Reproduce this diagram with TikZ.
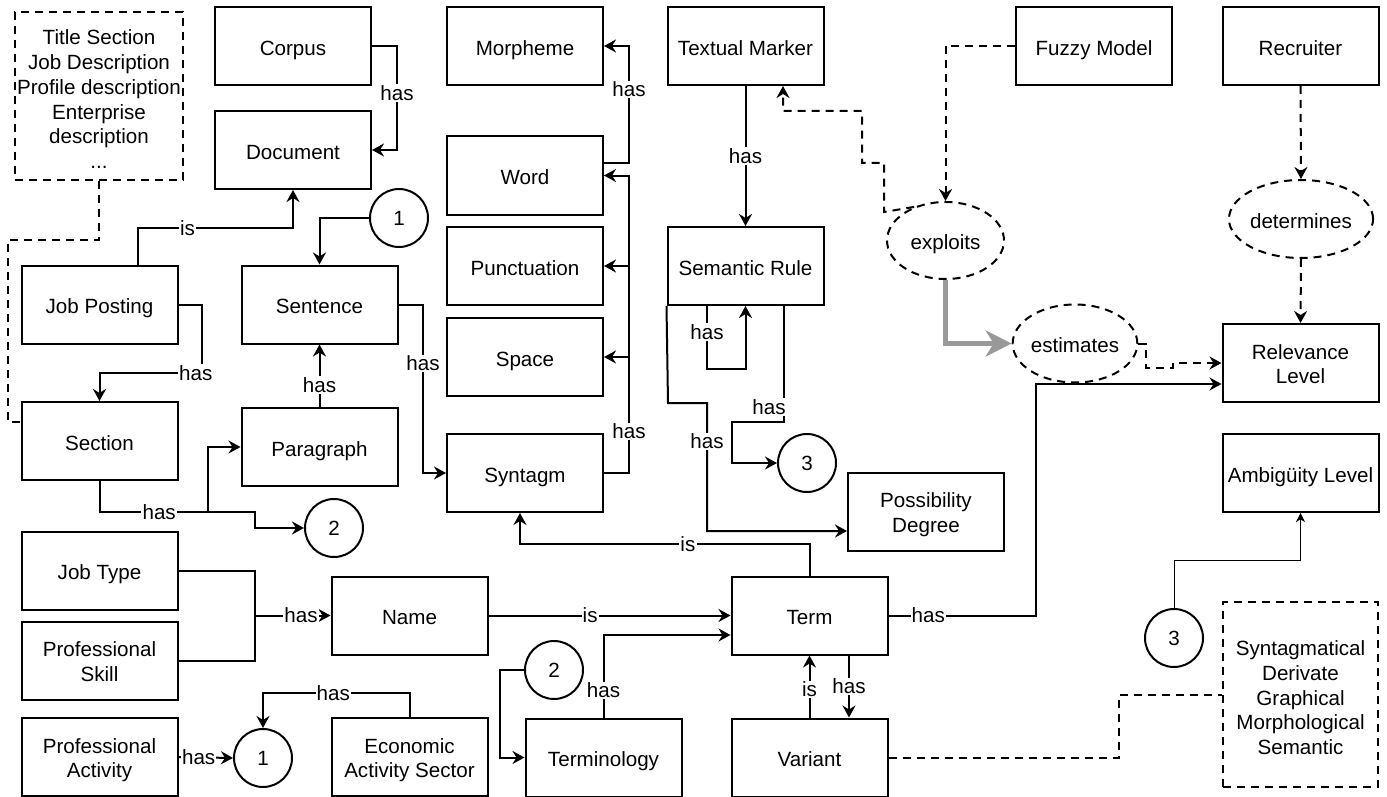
\documentclass[tikz,border=0pt]{standalone}
\usepackage{fontspec}
\setmainfont{Liberation Sans}
\usetikzlibrary{arrows.meta,shapes.geometric,calc}
\newcommand{\vstrut}{\rule[-0.21em]{0pt}{1.32em}}
\newcommand{\mstrut}{\rule{0pt}{1.03em}}
\tikzset{
  txt/.style={font=\fontsize{10.3pt}{12.4pt}\selectfont},
  box/.style={draw,line width=1pt,minimum width=78pt,minimum height=39pt,inner sep=0pt,align=center,txt,execute at begin node=\vstrut,execute at end node=\vstrut},
  dbox/.style={draw,line width=1pt,dash pattern=on 4pt off 3pt,inner sep=0pt,align=center,txt},
  circ/.style={circle,draw,line width=1pt,minimum size=29pt,inner sep=0pt,txt},
  ell/.style={ellipse,draw,line width=1pt,dash pattern=on 4pt off 3pt,minimum width=58pt,minimum height=39pt,inner sep=0pt,txt,execute at begin node=\vstrut},
  conn/.style={line width=1pt,-{Stealth[length=6pt,width=6.5pt,inset=2pt]}},
  plain/.style={line width=1pt},
  dconn/.style={line width=1pt,dash pattern=on 4pt off 3pt,-{Stealth[length=6pt,width=6.5pt,inset=2pt]}},
  dplain/.style={line width=1pt,dash pattern=on 4pt off 3pt},
  thin/.style={line width=0.5pt,-{Stealth[length=4.5pt,width=4.5pt,inset=1.3pt]}},
  grayconn/.style={line width=2.5pt,draw={rgb,255:red,153;green,153;blue,153},-{Stealth[length=13pt,width=13pt,inset=4pt,fill={rgb,255:red,153;green,153;blue,153}]}},
  lbl/.style={fill=white,inner sep=0.6pt,txt},
}
\begin{document}
\begin{tikzpicture}[x=0.5pt,y=-0.5pt]
\useasboundingbox (0,0) rectangle (1387,797);
% dashed notes
\node[dbox,minimum width=84pt,minimum height=84pt] (dash1) at (99,96) {\mstrut Title Section\\Job Description\\Profile description\\Enterprise\\description\\...};
\node[dbox,minimum width=77.5pt,minimum height=92.5pt] (dash2) at (1300.5,694.5) {\mstrut Syntagmatical\\Derivate\\Graphical\\Morphological\\Semantic};
% boxes
\node[box] (corpus) at (293,46) {Corpus};
\node[box] (document) at (293,150) {Document};
\node[box] (jobposting) at (99.5,304.5) {Job Posting};
\node[box] (section) at (99.5,441) {Section};
\node[box] (sentence) at (319.5,304.5) {Sentence};
\node[box] (paragraph) at (319.5,447) {Paragraph};
\node[box] (morpheme) at (525,46) {Morpheme};
\node[box] (word) at (525,175.5) {Word};
\node[box] (punct) at (525,266) {Punctuation};
\node[box] (space) at (525,357) {Space};
\node[box] (syntagm) at (525,473) {Syntagm};
\node[box] (textual) at (745.5,46) {Textual Marker};
\node[box] (semrule) at (745.5,266) {Semantic Rule};
\node[box] (possdeg) at (926,511.5) {\mstrut Possibility\\Degree};
\node[box] (fuzzy) at (1094,46) {Fuzzy Model};
\node[box] (recruiter) at (1300.5,46) {Recruiter};
\node[box] (relevance) at (1300.5,363) {\mstrut Relevance\\Level};
\node[box] (ambig) at (1300.5,473) {Ambigüity Level};
\node[box] (jobtype) at (99.5,570.5) {Job Type};
\node[box] (profskill) at (99.5,660.5) {\mstrut Professional\\Skill};
\node[box] (profact) at (99.5,757) {\mstrut Professional\\Activity};
\node[box] (econ) at (409.5,757) {\mstrut Economic\\Activity Sector};
\node[box] (name) at (409.5,615.5) {Name};
\node[box] (term) at (809.5,615.5) {Term};
\node[box] (terminology) at (603.5,757.5) {Terminology};
\node[box] (variant) at (809.5,757.5) {Variant};
% circles
\node[circ] (c1top) at (399,218) {1};
\node[circ] (c2top) at (334,528) {2};
\node[circ] (c3top) at (807,463) {3};
\node[circ] (c2bot) at (554,670) {2};
\node[circ] (c3bot) at (1174,638) {3};
\node[circ] (c1bot) at (263,758) {1};
% ellipses
\node[ell,minimum width=58.5pt,minimum height=38.5pt] (exploits) at (945.5,240.5) {exploits};
\node[ell] (determines) at (1301,219) {determines};
\node[ell] (estimates) at (1075,343.5) {estimates};
% connectors
\draw[conn] (corpus.east) -- (397,46) -- node[lbl,pos=0.45]{has} (397,150) -- (document.east);
\draw[conn] (c1top.west) -| (sentence.north);
\draw[conn] ($(jobposting.north)+(38.5,0)$) -- (138,228) -- node[lbl,pos=0.32]{is} (293,228) -- (document.south);
\draw[conn] (jobposting.east) -- (202,304.5) -- (202,373) -- node[lbl,pos=0.06]{has} (99.5,373) -- (section.north);
\draw[dplain] (dash1.south) -- (99,240) -- (8,240) -- (8,422) -- ($(section.west)+(0,-19)$);
\draw[conn] (paragraph.north) -- node[lbl,pos=0.35]{has} (sentence.south);
\draw[conn] (section.south) -- (99.5,512) -- node[lbl,pos=0.55]{has} (208,512) |- (paragraph.west);
\draw[conn] (208,512) -- (255,512) -- (255,528) -- (c2top.west);
\draw[conn] (sentence.east) -- (423,304.5) -- node[lbl,pos=0.35]{has} (423,473) -- (syntagm.west);
\draw[conn] ($(word.east)+(0,-12.5)$) -- (629,163) -- node[lbl,pos=0.63]{has} (629,46) -- (morpheme.east);
\draw[conn] (syntagm.east) -- (629,473) -- node[lbl,pos=0.14]{has} (629,175.5) -- (word.east);
\draw[conn] (629,266) -- (punct.east);
\draw[conn] (629,357) -- (space.east);
\draw[conn] (textual.south) -- node[lbl]{has} (semrule.north);
\draw[conn] ($(semrule.south)+(-38.5,0)$) -- node[lbl,pos=0.41]{has} (707,369) -- (745.5,369) -- (semrule.south);
\draw[conn] ($(semrule.south)+(38.5,0)$) -- node[lbl,pos=0.87,xshift=-7.5pt]{has} (784,422) -- (732,422) -- (732,463) -- (c3top.west);
\draw[conn] (semrule.south west) -- (668,403) -- (707,403) -- node[lbl,pos=0.3]{has} (707,531) -- ($(possdeg.west)+(0,19.5)$);
\draw[dconn] (fuzzy.west) -| (exploits.north);
\draw[dconn] (exploits.133) -- (884,212) -- (884,163) -- (862,163) -- (862,111) -- (783,111) -- ($(textual.south)+(37.5,0)$);
\draw[grayconn] (exploits.south) |- (estimates.west);
\draw[dconn] (estimates.east) -- (1146,343.5) -- (1146,368) -- (1173,368) -- (1173,363) -- (relevance.west);
\draw[dconn] (recruiter.south) -- (determines.north);
\draw[dconn] (determines.south) -- (relevance.north);
\draw[conn] (term.east) -- node[lbl,pos=0.27]{has} (1036,615.5) -- (1036,384) -- ($(relevance.west)+(0,21)$);
\draw[conn] (name.east) -- node[lbl,pos=0.42]{is} (term.west);
\draw[conn] (term.north) -- (809.5,544) -- node[lbl,pos=0.42]{is} (520,544) -- ($(syntagm.south)+(-5,0)$);
\draw[conn] (terminology.north) -- node[lbl,pos=0.33]{has} (603.5,635) -- ($(term.west)+(0,19.5)$);
\draw[conn] (c2bot.west) -- (500,670) -- (500,757.5) -- (terminology.west);
\draw[conn] (variant.north) -- node[lbl,pos=0.45]{is} (term.south);
\draw[conn] ($(term.south)+(39.5,0)$) -- node[lbl,pos=0.5]{has} ($(variant.north)+(39.5,0)$);
\draw[dplain] (variant.east) -- (1119,757.5) -- (1119,694.5) -- (dash2.west);
\draw[thin] (c3bot.north) -- (1174,560) -- (1300.5,560) -- (ambig.south);
\draw[plain] (jobtype.east) -- (255,570.5) -- (255,615.5);
\draw[conn] (profskill.east) -- (255,660.5) -- (255,615.5) -- node[lbl,pos=0.61]{has} (name.west);
\draw[conn] (profact.east) -- node[lbl,pos=0.37]{has} (c1bot.west);
\draw[conn] (econ.north) -- (409.5,693) -- node[lbl,pos=0.52]{has} (263,693) -- (c1bot.north);
\end{tikzpicture}
\end{document}
